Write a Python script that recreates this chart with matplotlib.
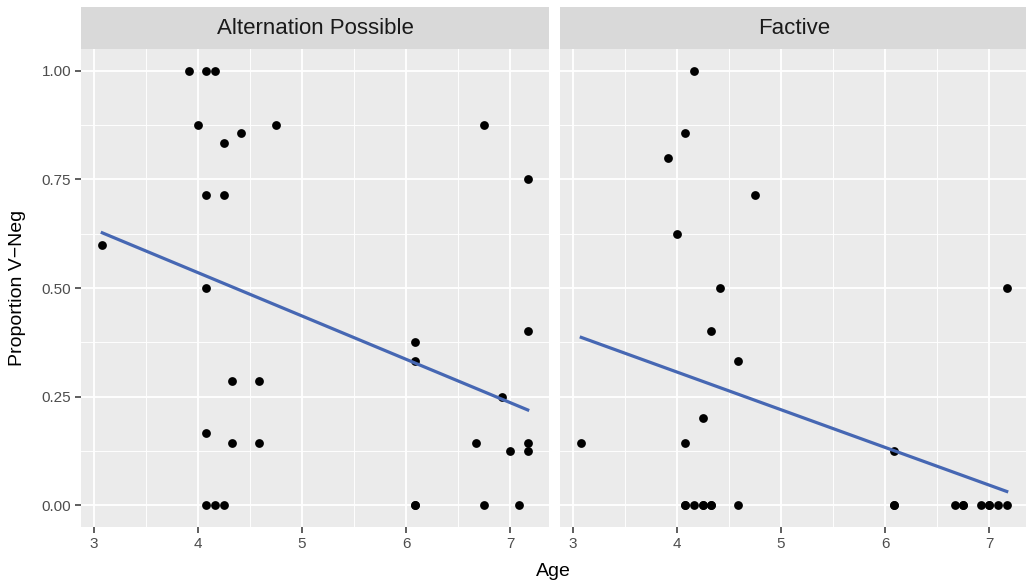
import numpy as np
import matplotlib
matplotlib.use('Agg')
import matplotlib.pyplot as plt
from matplotlib.ticker import MultipleLocator

plt.rcParams['font.family'] = ['Liberation Sans', 'DejaVu Sans']

# Alternation Possible panel (some children share the same point)
alt_age = [3.083, 3.917, 4.083, 4.167, 4.0, 4.417, 4.75, 4.25, 4.083, 4.25,
           4.083, 4.333, 4.583, 4.083, 4.333, 4.583, 4.083, 4.167, 4.25,
           6.083, 6.083, 6.083, 6.083, 6.75, 7.167, 7.167, 6.917, 6.667, 7.0,
           7.167, 7.167, 6.75, 7.083]
alt_prop = [0.6, 1.0, 1.0, 1.0, 0.875, 0.857, 0.875, 0.833, 0.714, 0.714,
            0.5, 0.286, 0.286, 0.167, 0.143, 0.143, 0.0, 0.0, 0.0,
            0.375, 0.333, 0.0, 0.0, 0.875, 0.75, 0.4, 0.25, 0.143, 0.125,
            0.143, 0.125, 0.0, 0.0]

# Factive panel
fac_age = [4.167, 4.083, 3.917, 4.75, 4.0, 4.417, 4.333, 4.583, 4.25, 3.083,
           4.083, 4.083, 4.083, 4.167, 4.25, 4.25, 4.333, 4.333, 4.583,
           6.083, 6.083, 6.083, 6.667, 6.75, 6.75, 6.917, 7.0, 7.0, 7.083,
           7.167, 7.167]
fac_prop = [1.0, 0.857, 0.8, 0.714, 0.625, 0.5, 0.4, 0.333, 0.2, 0.143,
            0.143, 0.0, 0.0, 0.0, 0.0, 0.0, 0.0, 0.0, 0.0,
            0.125, 0.0, 0.0, 0.0, 0.0, 0.0, 0.0, 0.0, 0.0, 0.0,
            0.0, 0.5]

panels = [('Alternation Possible', alt_age, alt_prop),
          ('Factive', fac_age, fac_prop)]

all_age = alt_age + fac_age
pad = 0.05 * (max(all_age) - min(all_age))
xlim = (min(all_age) - pad, max(all_age) + pad)

fig = plt.figure(figsize=(10.26, 5.82), dpi=100)
lefts = [81 / 1026, 560 / 1026]
pw = 468 / 1026
pb, ph = 1 - 527 / 582, 478 / 582
sb, sh = 1 - 49 / 582, 42 / 582

for i, (name, age, prop) in enumerate(panels):
    ax = fig.add_axes([lefts[i], pb, pw, ph])
    ax.set_facecolor('#EBEBEB')
    for s in ax.spines.values():
        s.set_visible(False)
    ax.set_xlim(xlim)
    ax.set_ylim(-0.05, 1.05)
    ax.xaxis.set_major_locator(MultipleLocator(1))
    ax.xaxis.set_minor_locator(MultipleLocator(0.5))
    ax.yaxis.set_major_locator(MultipleLocator(0.25))
    ax.yaxis.set_minor_locator(MultipleLocator(0.125))
    ax.grid(which='major', color='white', lw=1.3)
    ax.grid(which='minor', color='white', lw=0.65)
    ax.set_axisbelow(True)
    ax.tick_params(which='minor', length=0)
    ax.tick_params(which='major', length=4, width=1.1, color='#333333',
                   labelcolor='#4D4D4D', labelsize=11, pad=3)
    if i == 0:
        ax.set_yticks([0, 0.25, 0.5, 0.75, 1.0])
        ax.set_yticklabels(['0.00', '0.25', '0.50', '0.75', '1.00'])
    else:
        ax.tick_params(axis='y', which='both', left=False, labelleft=False)

    ax.scatter(age, prop, s=40, color='black', zorder=3, linewidths=0)
    slope, icpt = np.polyfit(age, prop, 1)
    xs = np.array([min(age), max(age)])
    ax.plot(xs, icpt + slope * xs, color='#4667B3', lw=2.3, zorder=4)

    sax = fig.add_axes([lefts[i], sb, pw, sh])
    sax.set_facecolor('#D9D9D9')
    sax.set_xticks([])
    sax.set_yticks([])
    for s in sax.spines.values():
        s.set_visible(False)
    sax.text(0.5, 0.5, name, ha='center', va='center', fontsize=16,
             color='#1A1A1A', transform=sax.transAxes)

fig.text((81 + 1026) / 2 / 1026, 1 - 571 / 582, 'Age', ha='center', va='center',
         fontsize=14, color='black')
fig.text(18 / 1026, 1 - 288 / 582, 'Proportion V\u2212Neg', ha='center',
         va='center', rotation=90, fontsize=14, color='black')

fig.savefig('out.png', dpi=100)
